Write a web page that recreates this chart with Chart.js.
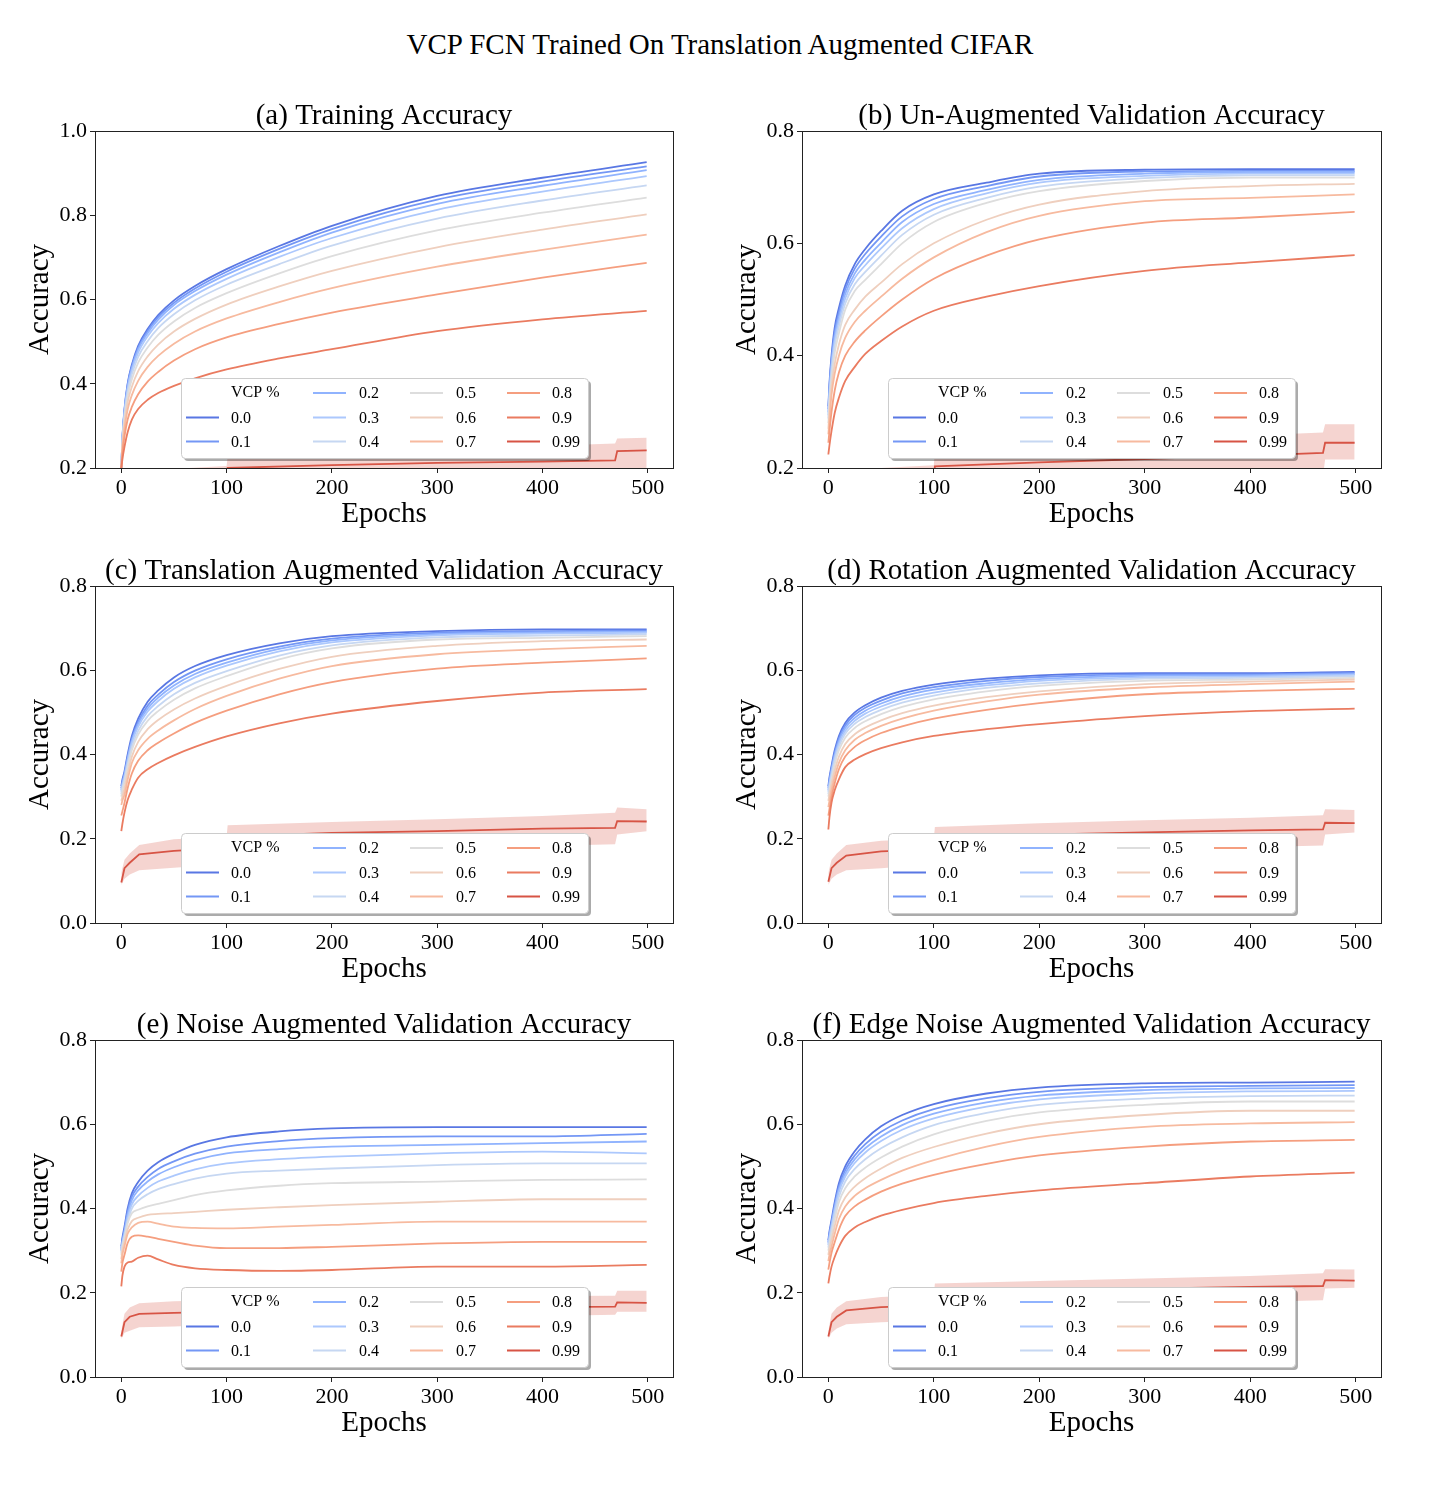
<!DOCTYPE html>
<html>
<head>
<meta charset="utf-8">
<script src="https://cdn.jsdelivr.net/npm/chart.js@4.4.0/dist/chart.umd.min.js"></script>
<style>
html,body{margin:0;padding:0;background:#fff;}
body{width:1440px;height:1512px;position:relative;overflow:hidden;font-family:"Liberation Serif","DejaVu Serif",serif;}
#suptitle{position:absolute;left:0;top:26px;width:1440px;text-align:center;font-size:29px;line-height:36px;color:#000;}
canvas{position:absolute;}
</style>
</head>
<body>
<div id="suptitle">VCP FCN Trained On Translation Augmented CIFAR</div>
<canvas id="p0" width="720" height="454" style="left:0px;top:80px"></canvas>
<canvas id="p1" width="720" height="454" style="left:720px;top:80px"></canvas>
<canvas id="p2" width="720" height="454" style="left:0px;top:535px"></canvas>
<canvas id="p3" width="720" height="454" style="left:720px;top:535px"></canvas>
<canvas id="p4" width="720" height="454" style="left:0px;top:989px"></canvas>
<canvas id="p5" width="720" height="454" style="left:720px;top:989px"></canvas>
<script>
// ---------------- DATA ----------------
const VCP_LABELS = ['0.0','0.1','0.2','0.3','0.4','0.5','0.6','0.7','0.8','0.9','0.99'];
const LEGEND_TITLE = 'VCP %';
const PANEL_TITLES = [
  '(a) Training Accuracy',
  '(b) Un-Augmented Validation Accuracy',
  '(c) Translation Augmented Validation Accuracy',
  '(d) Rotation Augmented Validation Accuracy',
  '(e) Noise Augmented Validation Accuracy',
  '(f) Edge Noise Augmented Validation Accuracy'
];
const X_TITLE = 'Epochs';
const Y_TITLE = 'Accuracy';
const X_TICKS = [0, 100, 200, 300, 400, 500];
const Y_TICKS_A = [0.2, 0.4, 0.6, 0.8, 1.0];
const Y_TICKS_B = [0.2, 0.4, 0.6, 0.8];
const Y_TICKS_REST = [0.0, 0.2, 0.4, 0.6, 0.8];

const EPOCHS = [0, 1, 3, 6, 10, 16, 25, 35, 50, 70, 100, 150, 200, 300, 400, 499];
const EPOCHS_099 = [0, 3, 8, 17, 50, 100, 101, 200, 300, 400, 469, 471, 499];

// (a) training accuracy, VCP 0.0 ... 0.9
const trainAcc = [
  [0.200, 0.270, 0.340, 0.400, 0.445, 0.490, 0.530, 0.563, 0.598, 0.632, 0.672, 0.727, 0.775, 0.846, 0.889, 0.926],
  [0.200, 0.269, 0.337, 0.397, 0.441, 0.485, 0.525, 0.558, 0.592, 0.626, 0.666, 0.720, 0.767, 0.837, 0.880, 0.916],
  [0.200, 0.267, 0.335, 0.393, 0.437, 0.481, 0.520, 0.552, 0.587, 0.620, 0.659, 0.712, 0.759, 0.827, 0.870, 0.907],
  [0.200, 0.265, 0.331, 0.388, 0.431, 0.474, 0.513, 0.544, 0.578, 0.611, 0.649, 0.701, 0.746, 0.813, 0.856, 0.893],
  [0.200, 0.262, 0.325, 0.380, 0.422, 0.464, 0.501, 0.532, 0.565, 0.598, 0.635, 0.684, 0.728, 0.792, 0.835, 0.871],
  [0.200, 0.258, 0.317, 0.370, 0.410, 0.450, 0.486, 0.516, 0.548, 0.580, 0.615, 0.662, 0.703, 0.764, 0.806, 0.842],
  [0.200, 0.252, 0.306, 0.356, 0.393, 0.430, 0.465, 0.493, 0.524, 0.554, 0.588, 0.631, 0.668, 0.724, 0.766, 0.802],
  [0.200, 0.245, 0.293, 0.339, 0.373, 0.407, 0.440, 0.466, 0.495, 0.524, 0.555, 0.594, 0.627, 0.678, 0.718, 0.754],
  [0.200, 0.235, 0.275, 0.315, 0.345, 0.375, 0.405, 0.428, 0.455, 0.482, 0.510, 0.542, 0.569, 0.612, 0.652, 0.687],
  [0.200, 0.220, 0.250, 0.285, 0.315, 0.340, 0.362, 0.378, 0.395, 0.413, 0.434, 0.460, 0.482, 0.525, 0.553, 0.573]
];
const trainAcc99   = [0.100, 0.130, 0.145, 0.165, 0.175, 0.180, 0.200, 0.207, 0.212, 0.215, 0.218, 0.240, 0.242];
const trainAcc99Hi = [0.120, 0.150, 0.170, 0.185, 0.198, 0.205, 0.228, 0.238, 0.245, 0.252, 0.258, 0.270, 0.272];
const trainAcc99Lo = [0.090, 0.105, 0.115, 0.125, 0.130, 0.140, 0.160, 0.168, 0.175, 0.180, 0.185, 0.200, 0.200];

// (b) un-augmented validation accuracy
const plainValAcc = [
  [0.310, 0.350, 0.400, 0.450, 0.485, 0.525, 0.563, 0.590, 0.622, 0.658, 0.687, 0.708, 0.724, 0.731, 0.732, 0.732],
  [0.305, 0.344, 0.393, 0.442, 0.477, 0.518, 0.555, 0.581, 0.612, 0.648, 0.679, 0.702, 0.719, 0.728, 0.729, 0.729],
  [0.299, 0.338, 0.386, 0.434, 0.469, 0.510, 0.546, 0.571, 0.601, 0.638, 0.670, 0.695, 0.713, 0.724, 0.727, 0.727],
  [0.294, 0.331, 0.379, 0.426, 0.461, 0.502, 0.538, 0.561, 0.591, 0.627, 0.661, 0.689, 0.708, 0.720, 0.724, 0.724],
  [0.288, 0.324, 0.370, 0.417, 0.452, 0.493, 0.527, 0.549, 0.578, 0.615, 0.651, 0.681, 0.701, 0.716, 0.721, 0.721],
  [0.280, 0.315, 0.360, 0.405, 0.440, 0.482, 0.515, 0.535, 0.563, 0.600, 0.638, 0.672, 0.693, 0.711, 0.717, 0.717],
  [0.270, 0.300, 0.345, 0.385, 0.420, 0.455, 0.482, 0.505, 0.530, 0.563, 0.600, 0.642, 0.669, 0.693, 0.702, 0.706],
  [0.260, 0.285, 0.330, 0.368, 0.400, 0.432, 0.460, 0.480, 0.505, 0.537, 0.575, 0.620, 0.649, 0.675, 0.681, 0.687],
  [0.245, 0.265, 0.300, 0.338, 0.370, 0.400, 0.425, 0.445, 0.470, 0.500, 0.537, 0.578, 0.607, 0.637, 0.646, 0.656],
  [0.224, 0.240, 0.266, 0.298, 0.325, 0.355, 0.380, 0.403, 0.426, 0.452, 0.480, 0.505, 0.524, 0.551, 0.566, 0.579]
];
const plainValAcc99   = [0.100, 0.130, 0.150, 0.165, 0.175, 0.180, 0.203, 0.210, 0.216, 0.222, 0.227, 0.245, 0.245];
const plainValAcc99Hi = [0.120, 0.150, 0.175, 0.190, 0.200, 0.205, 0.235, 0.245, 0.252, 0.258, 0.263, 0.278, 0.278];
const plainValAcc99Lo = [0.080, 0.110, 0.125, 0.135, 0.140, 0.145, 0.160, 0.168, 0.175, 0.180, 0.185, 0.215, 0.215];

// (c) translation augmented validation accuracy
const transValAcc = [
  [0.325, 0.340, 0.360, 0.400, 0.444, 0.485, 0.525, 0.552, 0.583, 0.610, 0.636, 0.664, 0.681, 0.693, 0.697, 0.697],
  [0.320, 0.335, 0.355, 0.394, 0.437, 0.477, 0.516, 0.542, 0.572, 0.599, 0.626, 0.656, 0.675, 0.689, 0.693, 0.694],
  [0.316, 0.331, 0.351, 0.389, 0.432, 0.472, 0.509, 0.535, 0.564, 0.591, 0.618, 0.651, 0.671, 0.686, 0.690, 0.691],
  [0.312, 0.327, 0.347, 0.385, 0.427, 0.466, 0.502, 0.527, 0.556, 0.583, 0.611, 0.645, 0.666, 0.683, 0.687, 0.689],
  [0.306, 0.321, 0.341, 0.377, 0.418, 0.456, 0.491, 0.515, 0.543, 0.570, 0.598, 0.635, 0.659, 0.678, 0.682, 0.685],
  [0.300, 0.315, 0.335, 0.370, 0.410, 0.447, 0.480, 0.503, 0.530, 0.557, 0.586, 0.626, 0.652, 0.673, 0.677, 0.681],
  [0.290, 0.300, 0.320, 0.355, 0.395, 0.430, 0.460, 0.482, 0.507, 0.533, 0.563, 0.603, 0.632, 0.658, 0.669, 0.673],
  [0.280, 0.290, 0.305, 0.340, 0.380, 0.410, 0.437, 0.457, 0.481, 0.508, 0.539, 0.580, 0.610, 0.638, 0.650, 0.658],
  [0.255, 0.265, 0.285, 0.320, 0.355, 0.385, 0.410, 0.428, 0.450, 0.475, 0.504, 0.543, 0.572, 0.604, 0.618, 0.628],
  [0.218, 0.235, 0.262, 0.292, 0.317, 0.345, 0.365, 0.380, 0.398, 0.418, 0.443, 0.474, 0.497, 0.527, 0.547, 0.555]
];
const transValAcc99   = [0.096, 0.130, 0.143, 0.163, 0.171, 0.178, 0.205, 0.214, 0.218, 0.224, 0.226, 0.242, 0.241];
const transValAcc99Hi = [0.120, 0.150, 0.165, 0.185, 0.199, 0.205, 0.232, 0.240, 0.246, 0.254, 0.262, 0.274, 0.270];
const transValAcc99Lo = [0.090, 0.105, 0.115, 0.125, 0.131, 0.140, 0.165, 0.172, 0.178, 0.183, 0.187, 0.210, 0.218];

// (d) rotation augmented validation accuracy
const rotValAcc = [
  [0.325, 0.345, 0.373, 0.410, 0.444, 0.475, 0.500, 0.517, 0.535, 0.551, 0.566, 0.580, 0.588, 0.593, 0.593, 0.596],
  [0.321, 0.340, 0.368, 0.404, 0.438, 0.469, 0.494, 0.511, 0.528, 0.545, 0.560, 0.575, 0.584, 0.590, 0.590, 0.594],
  [0.316, 0.334, 0.362, 0.398, 0.432, 0.463, 0.487, 0.504, 0.521, 0.538, 0.554, 0.569, 0.579, 0.587, 0.588, 0.591],
  [0.312, 0.329, 0.357, 0.393, 0.426, 0.456, 0.480, 0.497, 0.514, 0.531, 0.547, 0.564, 0.575, 0.583, 0.585, 0.589],
  [0.306, 0.323, 0.350, 0.386, 0.419, 0.449, 0.473, 0.489, 0.506, 0.523, 0.540, 0.558, 0.569, 0.580, 0.582, 0.586],
  [0.300, 0.315, 0.342, 0.377, 0.410, 0.440, 0.463, 0.479, 0.496, 0.513, 0.531, 0.550, 0.563, 0.575, 0.578, 0.582],
  [0.290, 0.305, 0.330, 0.362, 0.395, 0.425, 0.448, 0.464, 0.481, 0.498, 0.516, 0.536, 0.550, 0.567, 0.573, 0.578],
  [0.275, 0.290, 0.315, 0.347, 0.380, 0.410, 0.435, 0.451, 0.468, 0.485, 0.504, 0.526, 0.542, 0.559, 0.567, 0.573],
  [0.255, 0.270, 0.300, 0.332, 0.365, 0.395, 0.418, 0.434, 0.451, 0.467, 0.485, 0.506, 0.522, 0.543, 0.551, 0.556],
  [0.222, 0.250, 0.286, 0.315, 0.341, 0.370, 0.388, 0.401, 0.415, 0.429, 0.444, 0.460, 0.472, 0.491, 0.503, 0.509]
];
const rotValAcc99   = [0.098, 0.130, 0.143, 0.160, 0.170, 0.175, 0.203, 0.210, 0.215, 0.220, 0.222, 0.238, 0.237];
const rotValAcc99Hi = [0.120, 0.150, 0.165, 0.185, 0.195, 0.200, 0.228, 0.237, 0.244, 0.250, 0.256, 0.270, 0.268];
const rotValAcc99Lo = [0.090, 0.105, 0.115, 0.125, 0.130, 0.140, 0.162, 0.170, 0.175, 0.180, 0.184, 0.210, 0.215];

// (e) noise augmented validation accuracy
const noiseValAcc = [
  [0.310, 0.330, 0.357, 0.400, 0.436, 0.463, 0.490, 0.510, 0.530, 0.551, 0.569, 0.583, 0.590, 0.593, 0.593, 0.593],
  [0.305, 0.325, 0.350, 0.393, 0.428, 0.452, 0.475, 0.494, 0.512, 0.530, 0.547, 0.560, 0.567, 0.571, 0.571, 0.577],
  [0.300, 0.320, 0.345, 0.386, 0.420, 0.443, 0.464, 0.481, 0.498, 0.515, 0.531, 0.541, 0.547, 0.551, 0.555, 0.559],
  [0.300, 0.318, 0.340, 0.378, 0.410, 0.430, 0.449, 0.464, 0.478, 0.493, 0.507, 0.517, 0.523, 0.531, 0.535, 0.531],
  [0.295, 0.313, 0.335, 0.370, 0.400, 0.418, 0.434, 0.446, 0.458, 0.471, 0.483, 0.490, 0.495, 0.503, 0.507, 0.507],
  [0.290, 0.310, 0.330, 0.365, 0.389, 0.397, 0.405, 0.411, 0.420, 0.432, 0.443, 0.454, 0.460, 0.464, 0.468, 0.469],
  [0.280, 0.300, 0.320, 0.350, 0.370, 0.378, 0.385, 0.387, 0.389, 0.392, 0.397, 0.403, 0.408, 0.416, 0.422, 0.422],
  [0.270, 0.290, 0.310, 0.340, 0.355, 0.366, 0.369, 0.364, 0.357, 0.354, 0.353, 0.357, 0.361, 0.369, 0.369, 0.369],
  [0.250, 0.270, 0.290, 0.318, 0.333, 0.336, 0.333, 0.328, 0.321, 0.312, 0.306, 0.306, 0.309, 0.317, 0.321, 0.321],
  [0.215, 0.240, 0.262, 0.272, 0.274, 0.283, 0.288, 0.279, 0.266, 0.258, 0.254, 0.252, 0.254, 0.262, 0.262, 0.266]
];
const noiseValAcc99   = [0.096, 0.130, 0.143, 0.150, 0.152, 0.155, 0.158, 0.160, 0.163, 0.166, 0.167, 0.177, 0.176];
const noiseValAcc99Hi = [0.110, 0.150, 0.165, 0.175, 0.180, 0.183, 0.186, 0.188, 0.190, 0.192, 0.193, 0.205, 0.205];
const noiseValAcc99Lo = [0.090, 0.105, 0.110, 0.118, 0.120, 0.125, 0.130, 0.135, 0.140, 0.145, 0.148, 0.155, 0.155];

// (f) edge noise augmented validation accuracy
const edgeValAcc = [
  [0.325, 0.345, 0.373, 0.415, 0.460, 0.500, 0.536, 0.564, 0.595, 0.622, 0.648, 0.673, 0.687, 0.697, 0.699, 0.701],
  [0.321, 0.340, 0.367, 0.408, 0.452, 0.491, 0.526, 0.553, 0.582, 0.609, 0.636, 0.662, 0.677, 0.688, 0.691, 0.693],
  [0.317, 0.335, 0.362, 0.402, 0.446, 0.483, 0.517, 0.543, 0.571, 0.598, 0.625, 0.652, 0.668, 0.681, 0.685, 0.686],
  [0.313, 0.331, 0.357, 0.396, 0.439, 0.476, 0.508, 0.533, 0.560, 0.587, 0.614, 0.642, 0.659, 0.673, 0.678, 0.679],
  [0.307, 0.324, 0.350, 0.387, 0.428, 0.464, 0.494, 0.517, 0.543, 0.569, 0.598, 0.627, 0.646, 0.661, 0.667, 0.668],
  [0.300, 0.315, 0.340, 0.375, 0.415, 0.448, 0.476, 0.497, 0.521, 0.547, 0.576, 0.608, 0.628, 0.646, 0.654, 0.654],
  [0.290, 0.305, 0.325, 0.358, 0.395, 0.426, 0.452, 0.472, 0.495, 0.520, 0.546, 0.578, 0.600, 0.622, 0.632, 0.632],
  [0.275, 0.290, 0.310, 0.340, 0.375, 0.405, 0.430, 0.448, 0.468, 0.490, 0.515, 0.547, 0.570, 0.594, 0.602, 0.605],
  [0.255, 0.270, 0.295, 0.320, 0.350, 0.382, 0.405, 0.421, 0.440, 0.459, 0.480, 0.506, 0.526, 0.547, 0.559, 0.563],
  [0.222, 0.238, 0.262, 0.285, 0.309, 0.335, 0.355, 0.368, 0.383, 0.397, 0.413, 0.430, 0.443, 0.460, 0.476, 0.485]
];
const edgeValAcc99   = [0.096, 0.130, 0.143, 0.158, 0.166, 0.170, 0.198, 0.205, 0.210, 0.214, 0.216, 0.230, 0.229];
const edgeValAcc99Hi = [0.110, 0.150, 0.165, 0.180, 0.190, 0.195, 0.222, 0.228, 0.234, 0.240, 0.246, 0.256, 0.255];
const edgeValAcc99Lo = [0.090, 0.105, 0.115, 0.125, 0.130, 0.135, 0.160, 0.168, 0.173, 0.178, 0.182, 0.210, 0.212];

// ---------------- STYLE ----------------
const COLORS = ['rgb(89,119,227)','rgb(116,151,245)','rgb(144,179,254)','rgb(172,200,253)','rgb(198,215,242)',
  'rgb(221,221,221)','rgb(239,207,190)','rgb(247,186,159)','rgb(245,158,127)','rgb(234,123,96)','rgb(215,84,69)'];
const BAND_099 = 'rgba(215,84,69,0.25)';
const FONT = '"Liberation Serif", "DejaVu Serif", serif';

const panels = [
  {id:'p0', title:PANEL_TITLES[0], series:trainAcc, s99:trainAcc99, hi:trainAcc99Hi, lo:trainAcc99Lo, yt:Y_TICKS_A, col:0},
  {id:'p1', title:PANEL_TITLES[1], series:plainValAcc, s99:plainValAcc99, hi:plainValAcc99Hi, lo:plainValAcc99Lo, yt:Y_TICKS_B, col:1},
  {id:'p2', title:PANEL_TITLES[2], series:transValAcc, s99:transValAcc99, hi:transValAcc99Hi, lo:transValAcc99Lo, yt:Y_TICKS_REST, col:0},
  {id:'p3', title:PANEL_TITLES[3], series:rotValAcc, s99:rotValAcc99, hi:rotValAcc99Hi, lo:rotValAcc99Lo, yt:Y_TICKS_REST, col:1},
  {id:'p4', title:PANEL_TITLES[4], series:noiseValAcc, s99:noiseValAcc99, hi:noiseValAcc99Hi, lo:noiseValAcc99Lo, yt:Y_TICKS_REST, col:0},
  {id:'p5', title:PANEL_TITLES[5], series:edgeValAcc, s99:edgeValAcc99, hi:edgeValAcc99Hi, lo:edgeValAcc99Lo, yt:Y_TICKS_REST, col:1}
];

function roundRect(ctx, x, y, w, h, r) {
  ctx.beginPath();
  ctx.moveTo(x + r, y);
  ctx.lineTo(x + w - r, y); ctx.arcTo(x + w, y, x + w, y + r, r);
  ctx.lineTo(x + w, y + h - r); ctx.arcTo(x + w, y + h, x + w - r, y + h, r);
  ctx.lineTo(x + r, y + h); ctx.arcTo(x, y + h, x, y + h - r, r);
  ctx.lineTo(x, y + r); ctx.arcTo(x, y, x + r, y, r);
  ctx.closePath();
}

const framePlugin = {
  id: 'frameAndLegend',
  afterDraw(chart) {
    const {ctx, chartArea} = chart;
    const opts = chart.options.plugins.frameAndLegend;
    ctx.save();
    ctx.fillStyle = '#000';
    ctx.font = '29px ' + FONT;
    ctx.textAlign = 'center';
    ctx.textBaseline = 'alphabetic';
    ctx.fillText(opts.title, (chartArea.left + chartArea.right) / 2, chartArea.top - 7);
    ctx.strokeStyle = '#222';
    ctx.lineWidth = 1;
    ctx.strokeRect(Math.round(chartArea.left) + 0.5, Math.round(chartArea.top) + 0.5,
      Math.round(chartArea.right - chartArea.left), Math.round(chartArea.bottom - chartArea.top));
    const W = 407, H = 80;
    const x0 = Math.round((chartArea.left + chartArea.right) / 2 - W / 2);
    const y0 = Math.round(chartArea.bottom - 10 - H);
    roundRect(ctx, x0 + 3, y0 + 3, W, H, 4);
    ctx.fillStyle = 'rgba(0,0,0,0.33)';
    ctx.fill();
    roundRect(ctx, x0 + 0.5, y0 + 0.5, W, H, 4);
    ctx.fillStyle = '#fff';
    ctx.fill();
    ctx.strokeStyle = '#cccccc';
    ctx.stroke();
    const rows = [15, 39.5, 63.5];
    const handleX = [5, 132, 229, 326];
    const textX = [50, 178, 275, 371];
    const layout = [[null, 0, 1], [2, 3, 4], [5, 6, 7], [8, 9, 10]];
    ctx.font = '16px ' + FONT;
    ctx.textAlign = 'left';
    ctx.textBaseline = 'middle';
    layout.forEach((colEntries, ci) => {
      colEntries.forEach((idx, ri) => {
        const y = y0 + rows[ri];
        ctx.fillStyle = '#000';
        if (idx === null) {
          ctx.fillText(LEGEND_TITLE, x0 + textX[ci], y);
          return;
        }
        ctx.strokeStyle = COLORS[idx];
        ctx.lineWidth = 2;
        ctx.beginPath();
        ctx.moveTo(x0 + handleX[ci], y);
        ctx.lineTo(x0 + handleX[ci] + 33, y);
        ctx.stroke();
        ctx.fillText(VCP_LABELS[idx], x0 + textX[ci], y + 1);
      });
    });
    ctx.restore();
  }
};

function makeChart(p) {
  const datasets = [];
  datasets.push({
    data: EPOCHS_099.map((x, i) => ({x, y: p.hi[i]})),
    borderColor: 'transparent', borderWidth: 0, pointRadius: 0, fill: false, order: 100, tension: 0
  });
  datasets.push({
    data: EPOCHS_099.map((x, i) => ({x, y: p.lo[i]})),
    borderColor: 'transparent', borderWidth: 0, pointRadius: 0, fill: '-1',
    backgroundColor: BAND_099, order: 100, tension: 0
  });
  p.series.forEach((vals, i) => {
    datasets.push({
      data: EPOCHS.map((x, j) => ({x, y: vals[j]})),
      borderColor: COLORS[i], borderWidth: 1.8, pointRadius: 0, fill: false,
      cubicInterpolationMode: 'monotone', order: 50 - i
    });
  });
  datasets.push({
    data: EPOCHS_099.map((x, i) => ({x, y: p.s99[i]})),
    borderColor: COLORS[10], borderWidth: 1.8, pointRadius: 0, fill: false,
    tension: 0, order: 30
  });

  const padL = p.col === 0 ? 23 : 10;
  const chartLeft = p.col === 0 ? 95 : 82;
  const chartRight = p.col === 0 ? 673 : 661;
  const yMin = Math.min(...p.yt), yMax = Math.max(...p.yt);

  return new Chart(document.getElementById(p.id), {
    type: 'line',
    data: {datasets},
    plugins: [framePlugin],
    options: {
      responsive: false,
      animation: false,
      devicePixelRatio: 1,
      layout: {padding: {left: padL, right: 720 - chartRight, top: 51, bottom: 0}},
      plugins: {
        legend: {display: false},
        tooltip: {enabled: false},
        title: {display: false},
        frameAndLegend: {title: p.title}
      },
      scales: {
        x: {
          type: 'linear', min: -25, max: 524,
          afterBuildTicks: s => { s.ticks = X_TICKS.map(v => ({value: v})); },
          afterFit: s => { s.height = 66; },
          ticks: {color: '#000', font: {family: FONT, size: 22}, padding: 2, maxRotation: 0, autoSkip: false,
                  callback: v => String(v)},
          grid: {display: true, drawOnChartArea: false, drawTicks: true, tickLength: 5, color: '#222'},
          border: {display: false},
          title: {display: true, text: X_TITLE, color: '#000', font: {family: FONT, size: 29},
                  padding: {top: 0, bottom: 2}}
        },
        y: {
          type: 'linear', min: yMin, max: yMax,
          afterBuildTicks: s => { s.ticks = p.yt.map(v => ({value: v})); },
          afterFit: s => { s.width = chartLeft - padL; },
          ticks: {color: '#000', font: {family: FONT, size: 22}, padding: 3, autoSkip: false,
                  callback: v => Number(v).toFixed(1)},
          grid: {display: true, drawOnChartArea: false, drawTicks: true, tickLength: 5, color: '#222'},
          border: {display: false},
          title: {display: true, text: Y_TITLE, color: '#000', font: {family: FONT, size: 29},
                  padding: {top: 0, bottom: 0}}
        }
      }
    }
  });
}

panels.forEach(makeChart);
</script>
</body>
</html>
